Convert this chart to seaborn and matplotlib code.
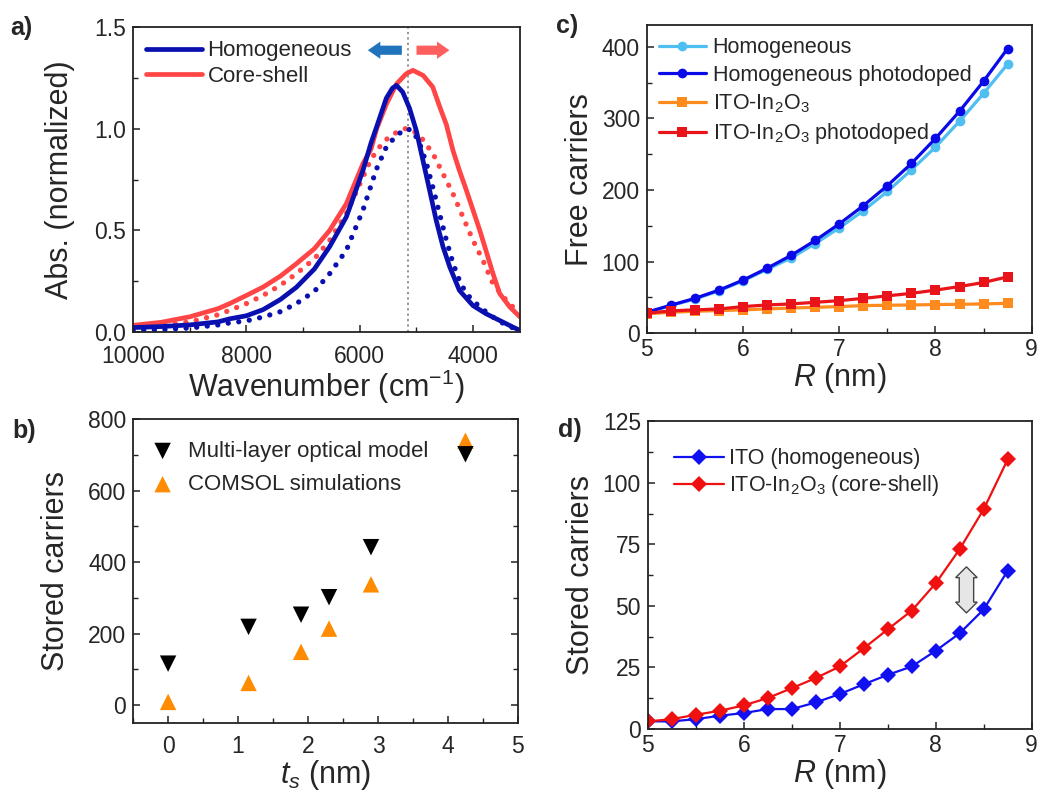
import matplotlib
matplotlib.use("Agg")
import matplotlib.pyplot as plt
from matplotlib.ticker import MultipleLocator, FormatStrFormatter
import seaborn as sns

# ---------------- a) normalized absorbance spectra ----------------
wn_hom_exp = [10000, 9500, 9000, 8500, 8294, 8000, 7706, 7400, 7118, 6800, 6530, 6236,
              5942, 5800, 5700, 5530, 5420, 5350, 5240, 5120, 5000, 4880, 4760, 4650,
              4530, 4410, 4240, 4000, 3770, 3530, 3300, 3170]
abs_hom_exp = [0.022, 0.027, 0.035, 0.050, 0.065, 0.080, 0.110, 0.160, 0.220, 0.310, 0.420,
               0.566, 0.795, 0.930, 1.010, 1.150, 1.200, 1.213, 1.180, 1.100, 0.990, 0.840,
               0.690, 0.550, 0.420, 0.320, 0.205, 0.130, 0.090, 0.057, 0.025, 0.008]

wn_cs_exp = [10000, 9500, 9000, 8500, 8294, 8000, 7706, 7400, 7118, 6800, 6530, 6236,
             5942, 5800, 5700, 5530, 5350, 5180, 5060, 4880, 4710, 4590, 4470, 4350,
             4240, 4120, 4000, 3880, 3770, 3650, 3530, 3350, 3170]
abs_cs_exp = [0.033, 0.048, 0.075, 0.115, 0.140, 0.180, 0.221, 0.275, 0.336, 0.410, 0.500,
              0.631, 0.828, 0.900, 1.000, 1.120, 1.220, 1.270, 1.287, 1.262, 1.205, 1.110,
              1.020, 0.890, 0.795, 0.700, 0.600, 0.500, 0.400, 0.290, 0.190, 0.123, 0.074]

wn_hom_sim = [10000, 9500, 9000, 8500, 8294, 8000, 7706, 7400, 7118, 6800, 6530, 6236,
              5942, 5706, 5530, 5350, 5180, 5060, 4940, 4820, 4710, 4590, 4470, 4350,
              4240, 4120, 3880, 3650, 3410, 3170]
abs_hom_sim = [0.008, 0.012, 0.020, 0.035, 0.045, 0.055, 0.074, 0.100, 0.140, 0.200, 0.287,
               0.402, 0.600, 0.800, 0.910, 0.967, 1.000, 0.990, 0.926, 0.828, 0.713, 0.582,
               0.451, 0.336, 0.254, 0.189, 0.123, 0.074, 0.033, 0.008]

wn_cs_sim = [10000, 9500, 9000, 8500, 8294, 8000, 7706, 7400, 7118, 6800, 6530, 6236,
             5942, 5800, 5588, 5400, 5200, 5118, 4941, 4706, 4530, 4353, 4177, 4000,
             3824, 3647, 3412, 3177]
abs_cs_sim = [0.020, 0.030, 0.050, 0.085, 0.107, 0.140, 0.180, 0.230, 0.287, 0.360, 0.451,
              0.582, 0.762, 0.850, 0.934, 0.975, 1.000, 1.000, 0.967, 0.877, 0.779, 0.680,
              0.566, 0.451, 0.352, 0.238, 0.156, 0.090]

lspr_ref_wn = 5140

# ---------------- b) stored carriers vs shell thickness ----------------
ts_nm = [0.0, 1.15, 1.9, 2.3, 2.9, 4.25]
stored_optical = [116, 219, 253, 302, 442, 702]
stored_comsol = [9, 62, 149, 214, 338, 740]

# ---------------- c) free carriers vs radius ----------------
radius_nm = [5.0, 5.25, 5.5, 5.75, 6.0, 6.25, 6.5, 6.75, 7.0, 7.25, 7.5, 7.75, 8.0, 8.25, 8.5, 8.75]
free_hom = [29, 38.4, 47.6, 59, 73, 89, 105, 125, 147, 171, 198, 228, 260, 296, 335, 376]
free_hom_pd = [29, 39, 48.5, 60, 74, 90.6, 108.6, 129.4, 152.6, 178, 206, 237, 272, 310, 352, 397.6]
free_cs = [27, 29, 30.5, 31.4, 32.4, 33.7, 35, 36, 37, 38.4, 38.8, 39.3, 39.8, 40.2, 40.7, 41.6]
free_cs_pd = [27.7, 31, 32.4, 33.7, 37, 39.3, 40.7, 43, 45.3, 48.5, 52, 55.5, 60, 65, 70.7, 78.6]

# ---------------- d) stored carriers vs radius ----------------
stored_ito = [3.1, 3.1, 4.0, 5.4, 6.5, 8.1, 8.1, 10.8, 14.2, 18.2, 22.0, 25.4, 31.8, 38.9, 48.6, 64.3]
stored_ito_cs = [3.1, 4.0, 5.8, 7.4, 9.6, 12.6, 16.6, 20.7, 25.4, 32.8, 40.5, 48.1, 59.2, 73.1, 89.3, 109.5]

sns.set_theme(style="ticks")
plt.rcParams["font.family"] = ["Liberation Sans", "DejaVu Sans"]
plt.rcParams["mathtext.fontset"] = "custom"
plt.rcParams["mathtext.rm"] = "Liberation Sans"
plt.rcParams["mathtext.it"] = "Liberation Sans:italic"
plt.rcParams["axes.linewidth"] = 1.3
plt.rcParams["axes.edgecolor"] = "#222222"

TICK_FS = 16.5
LABEL_FS = 22

fig = plt.figure(figsize=(10.4, 7.93), dpi=100)
ax_a = fig.add_axes([0.128, 0.5813, 0.372, 0.3846])
ax_c = fig.add_axes([0.622, 0.580, 0.370, 0.388])
ax_b = fig.add_axes([0.128, 0.0883, 0.370, 0.383])
ax_d = fig.add_axes([0.623, 0.0807, 0.369, 0.388])


def style_ticks(ax, right=False):
    ax.tick_params(which="both", direction="in", labelsize=TICK_FS, color="#222222",
                   right=right, top=False)
    ax.tick_params(which="major", length=5, width=1.1)
    ax.tick_params(which="minor", length=3.5, width=1.0)
    ax.tick_params(axis="y", pad=5)


# ---- a) ----
blue_a = "#0a10b0"
red_a = "#ff4545"
dot = dict(linestyle=(0, (0.01, 2.0)), dash_capstyle="round", linewidth=3.8)
sns.lineplot(x=wn_cs_sim, y=abs_cs_sim, ax=ax_a, sort=False, color=red_a, **dot)
sns.lineplot(x=wn_hom_sim, y=abs_hom_sim, ax=ax_a, sort=False, color=blue_a, **dot)
sns.lineplot(x=wn_cs_exp, y=abs_cs_exp, ax=ax_a, sort=False, color=red_a, linewidth=3.4,
             label="Core-shell")
sns.lineplot(x=wn_hom_exp, y=abs_hom_exp, ax=ax_a, sort=False, color=blue_a, linewidth=3.4,
             label="Homogeneous")
ax_a.axvline(lspr_ref_wn, color="#8a8a8a", linestyle=(0, (1.2, 1.8)), linewidth=1.3, zorder=0)
ax_a.set_xlim(10000, 3170)
ax_a.set_ylim(0, 1.5)
ax_a.xaxis.set_major_locator(MultipleLocator(2000))
ax_a.xaxis.set_minor_locator(MultipleLocator(1000))
ax_a.yaxis.set_major_locator(MultipleLocator(0.5))
ax_a.yaxis.set_minor_locator(MultipleLocator(0.25))
ax_a.yaxis.set_major_formatter(FormatStrFormatter("%.1f"))
style_ticks(ax_a)
ax_a.tick_params(axis="x", pad=9)
ax_a.set_xlabel("Wavenumber (cm$^{-1}$)", fontsize=LABEL_FS, labelpad=0)
ax_a.set_ylabel("Abs. (normalized)", fontsize=LABEL_FS, labelpad=14)
h, l = ax_a.get_legend_handles_labels()
ax_a.legend(h[::-1], l[::-1], loc="upper left", frameon=False, fontsize=16,
            handlelength=2.5, handletextpad=0.25, labelspacing=0.2,
            borderaxespad=0.3, borderpad=0.3)
# shift arrows
ax_a.arrow(5256, 1.386, 600, 0, width=0.045, head_width=0.085, head_length=220,
           length_includes_head=True, color="#1f74bd", linewidth=0)
ax_a.arrow(4997, 1.386, -582, 0, width=0.045, head_width=0.085, head_length=220,
           length_includes_head=True, color="#ff5e5e", linewidth=0)

# ---- c) ----
line_kw = dict(linewidth=2.3, markersize=7, markeredgewidth=0)
sns.lineplot(x=radius_nm, y=free_hom, ax=ax_c, color="#4fbff2", marker="o",
             label="Homogeneous", **line_kw)
sns.lineplot(x=radius_nm, y=free_hom_pd, ax=ax_c, color="#0a0ae8", marker="o",
             label="Homogeneous photodoped", **line_kw)
sns.lineplot(x=radius_nm, y=free_cs, ax=ax_c, color="#ff8a1e", marker="s",
             label="ITO-In$_2$O$_3$", **line_kw)
sns.lineplot(x=radius_nm, y=free_cs_pd, ax=ax_c, color="#e8141a", marker="s",
             label="ITO-In$_2$O$_3$ photodoped", **line_kw)
ax_c.set_xlim(5, 9)
ax_c.set_ylim(0, 430)
ax_c.xaxis.set_major_locator(MultipleLocator(1))
ax_c.xaxis.set_minor_locator(MultipleLocator(0.5))
ax_c.yaxis.set_major_locator(MultipleLocator(100))
ax_c.yaxis.set_minor_locator(MultipleLocator(50))
style_ticks(ax_c)
ax_c.set_xlabel("$R$ (nm)", fontsize=LABEL_FS, labelpad=0)
ax_c.set_ylabel("Free carriers", fontsize=LABEL_FS, labelpad=5)
ax_c.legend(loc="upper left", frameon=False, fontsize=15.5, handlelength=2.2,
            handletextpad=0.3, labelspacing=0.3, borderaxespad=0.3, borderpad=0.25)

# ---- b) ----
sns.scatterplot(x=ts_nm, y=stored_comsol, ax=ax_b, marker="^", s=140, color="#ff8c00",
                edgecolor="none", label="COMSOL simulations")
sns.scatterplot(x=ts_nm, y=stored_optical, ax=ax_b, marker="v", s=140, color="black",
                edgecolor="none", label="Multi-layer optical model")
ax_b.set_xlim(-0.5, 5)
ax_b.set_ylim(-50, 800)
ax_b.xaxis.set_major_locator(MultipleLocator(1))
ax_b.xaxis.set_minor_locator(MultipleLocator(0.5))
ax_b.yaxis.set_major_locator(MultipleLocator(200))
ax_b.yaxis.set_minor_locator(MultipleLocator(100))
style_ticks(ax_b, right=True)
ax_b.tick_params(axis="x", pad=9)
ax_b.set_xlabel("$t_s$ (nm)", fontsize=LABEL_FS, labelpad=0)
ax_b.set_ylabel("Stored carriers", fontsize=LABEL_FS, labelpad=12)
h, l = ax_b.get_legend_handles_labels()
ax_b.legend(h[::-1], l[::-1], loc="upper left", frameon=False, fontsize=16,
            handlelength=1.2, handletextpad=0.55, labelspacing=0.55, borderaxespad=0.3,
            borderpad=0.6, bbox_to_anchor=(-0.01, 0.995))

# ---- d) ----
d_kw = dict(linewidth=1.6, markersize=8.5, markeredgewidth=0)
sns.lineplot(x=radius_nm, y=stored_ito, ax=ax_d, color="#1010f0", marker="D",
             label="ITO (homogeneous)", **d_kw)
sns.lineplot(x=radius_nm, y=stored_ito_cs, ax=ax_d, color="#f01010", marker="D",
             label="ITO-In$_2$O$_3$ (core-shell)", **d_kw)
ax_d.set_xlim(5, 9)
ax_d.set_ylim(0, 125)
ax_d.xaxis.set_major_locator(MultipleLocator(1))
ax_d.xaxis.set_minor_locator(MultipleLocator(0.5))
ax_d.yaxis.set_major_locator(MultipleLocator(25))
ax_d.yaxis.set_minor_locator(MultipleLocator(12.5))
style_ticks(ax_d)
ax_d.set_xlabel("$R$ (nm)", fontsize=LABEL_FS, labelpad=0)
ax_d.set_ylabel("Stored carriers", fontsize=LABEL_FS, labelpad=5)
ax_d.legend(loc="upper left", frameon=False, fontsize=15.5, handlelength=2.3,
            handletextpad=0.25, labelspacing=0.2, borderaxespad=0.3, borderpad=0.3,
            bbox_to_anchor=(0.035, 0.955))
# gap between the two curves
ax_d.text(8.32, 56.5, " " * 12, rotation=90, ha="center", va="center", fontsize=6.5,
          bbox=dict(boxstyle="darrow,pad=0.3", fc="#e6e6e6", ec="#444444", lw=1.0))

# panel letters
for ax, letter, x0, y0 in [(ax_a, "a)", 10, 28), (ax_c, "c)", 556, 26),
                           (ax_b, "b)", 12, 431), (ax_d, "d)", 558, 430)]:
    fig.text(x0 / 1040, 1 - y0 / 793, letter, fontsize=18, fontweight="bold",
             ha="left", va="center")

fig.savefig("out.png", dpi=100)
